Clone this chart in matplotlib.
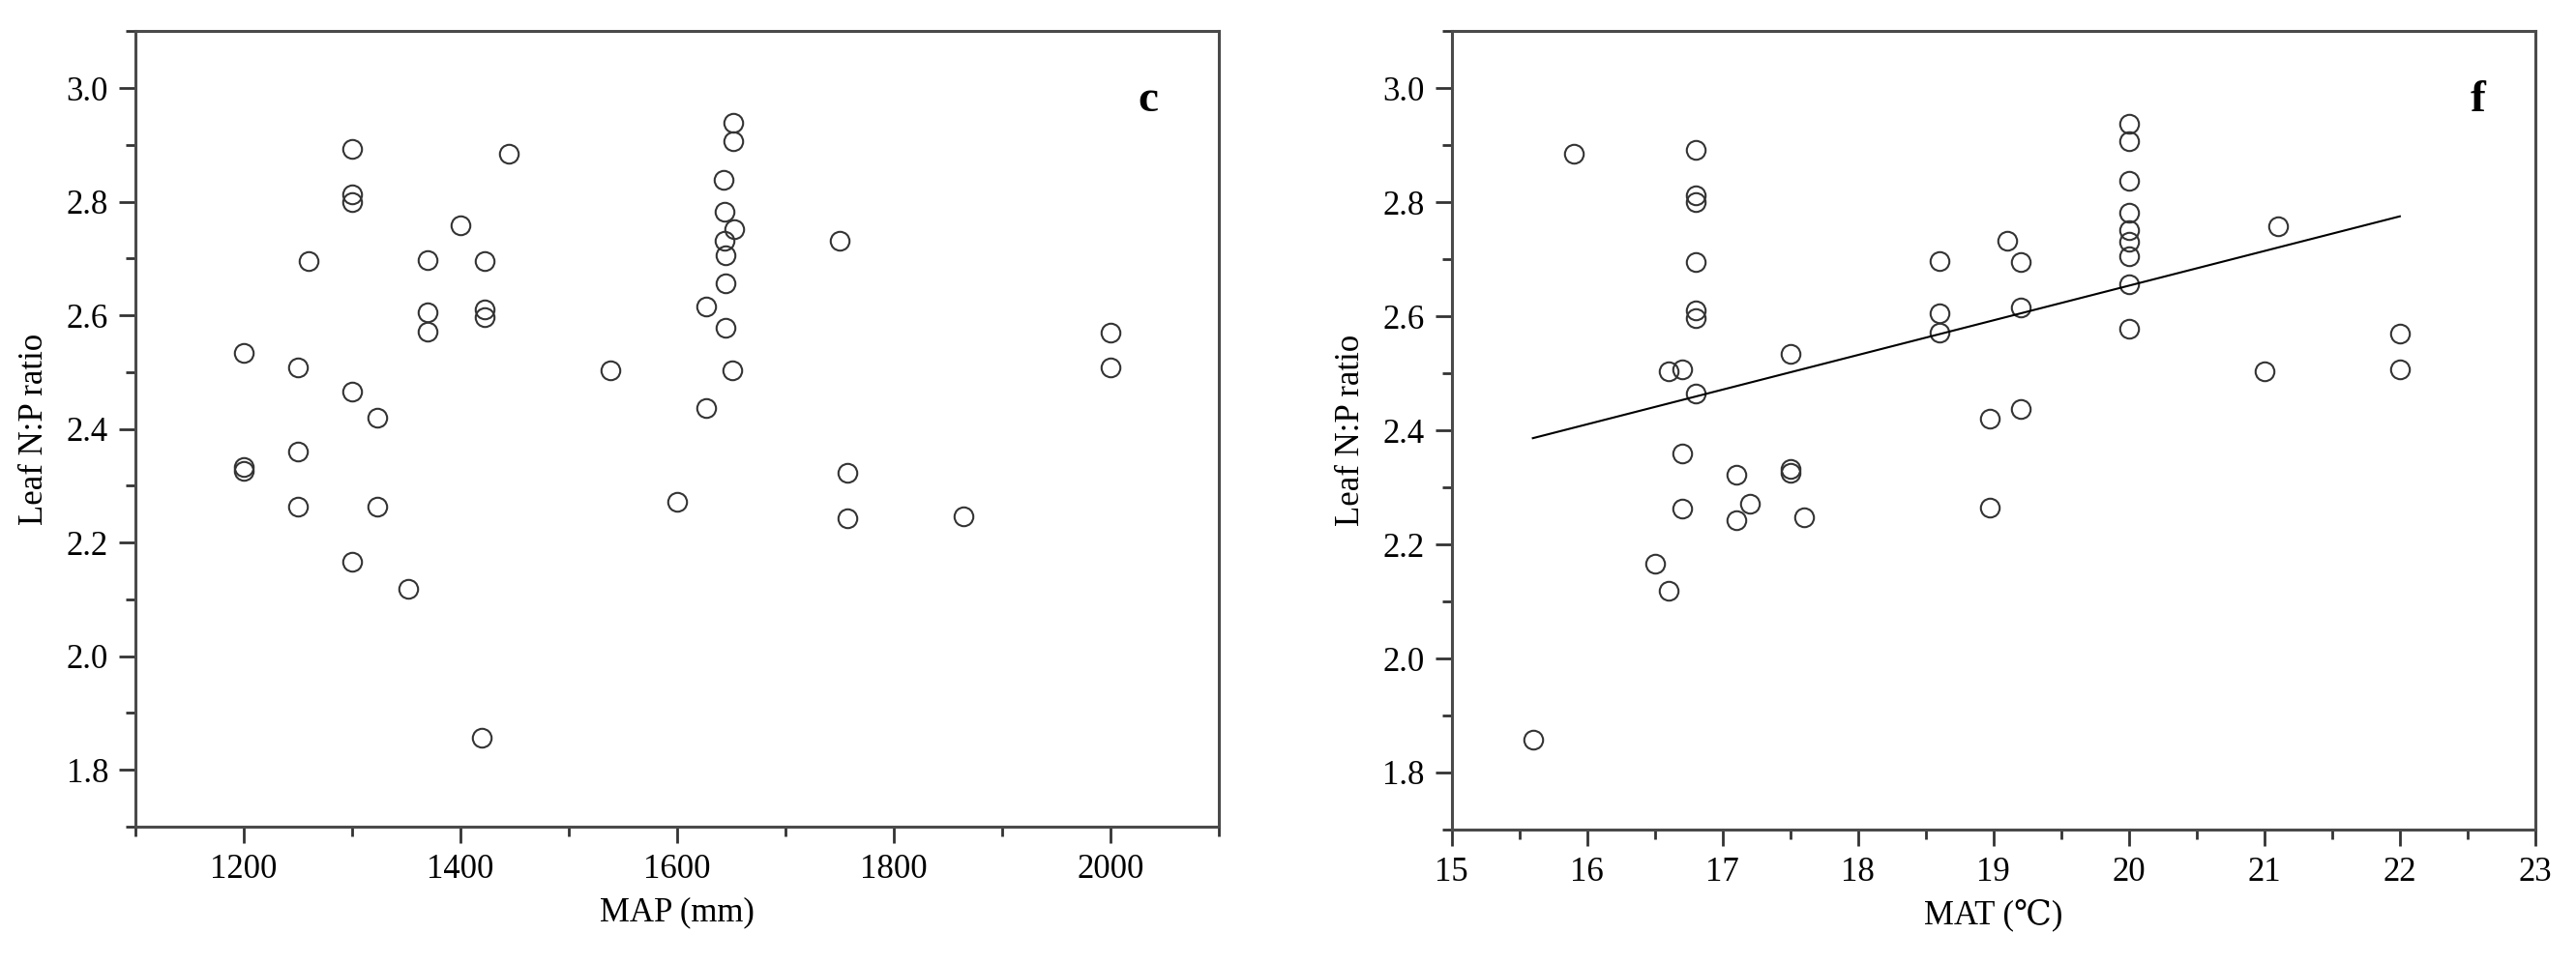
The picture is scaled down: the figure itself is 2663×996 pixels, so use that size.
import numpy as np
import matplotlib
matplotlib.use("Agg")
import matplotlib.pyplot as plt
from matplotlib.ticker import MultipleLocator

plt.rcParams['font.family'] = ['Liberation Serif', 'DejaVu Serif', 'DejaVu Sans']

# site data: mean annual temperature, mean annual precipitation, leaf N:P ratio
mat = [15.6, 15.9, 16.5, 16.6, 16.6, 16.7, 16.7, 16.7, 16.8, 16.8, 16.8, 16.8,
       16.8, 16.8, 16.8, 17.1, 17.1, 17.2, 17.5, 17.5, 17.5, 17.6, 18.6, 18.6,
       18.6, 18.97, 18.97, 19.1, 19.2, 19.2, 19.2, 20.0, 20.0, 20.0, 20.0, 20.0,
       20.0, 20.0, 20.0, 20.0, 21.0, 21.1, 22.0, 22.0]
map_mm = [1420, 1445, 1300, 1538, 1352, 1250, 1250, 1250, 1300, 1300, 1300, 1300,
          1422, 1422, 1422, 1757, 1757, 1600, 1200, 1200, 1200, 1864, 1370, 1370,
          1370, 1323, 1323, 1750, 1260, 1627, 1627, 1652, 1652, 1643, 1644, 1653,
          1644, 1645, 1645, 1645, 1651, 1400, 2000, 2000]
np_ratio = [1.857, 2.885, 2.167, 2.503, 2.118, 2.508, 2.360, 2.263, 2.892, 2.813, 2.800, 2.465,
            2.696, 2.611, 2.597, 2.323, 2.243, 2.272, 2.534, 2.333, 2.326, 2.247, 2.698, 2.605,
            2.572, 2.420, 2.264, 2.732, 2.696, 2.615, 2.437, 2.938, 2.907, 2.838, 2.782, 2.752,
            2.731, 2.705, 2.656, 2.578, 2.504, 2.758, 2.570, 2.508]

# regression line shown in panel f
fit_slope = 0.0608
fit_intercept = 1.438

fig = plt.figure(figsize=(26.63, 9.96), dpi=100)
ax1 = fig.add_axes([0.0525, 0.1416, 0.4207, 0.826])
ax2 = fig.add_axes([0.5635, 0.1386, 0.4207, 0.8288])

mk = dict(linestyle='none', marker='o', markersize=14, markerfacecolor='none',
          markeredgecolor='#333333', markeredgewidth=1.5)

ax1.plot(map_mm, np_ratio, **mk)
ax2.plot(mat, np_ratio, **mk)

xs = np.array([min(mat), max(mat)])
ax2.plot(xs, fit_intercept + fit_slope * xs, color='black', lw=1.5)

ax1.set_xlim(1100, 2100)
ax1.set_xticks([1200, 1400, 1600, 1800, 2000])
ax1.xaxis.set_minor_locator(MultipleLocator(100))
ax2.set_xlim(15, 23)
ax2.xaxis.set_major_locator(MultipleLocator(1))
ax2.xaxis.set_minor_locator(MultipleLocator(0.5))

for ax in (ax1, ax2):
    ax.set_ylim(1.7, 3.1)
    ax.set_yticks([1.8, 2.0, 2.2, 2.4, 2.6, 2.8, 3.0])
    ax.yaxis.set_minor_locator(MultipleLocator(0.1))
    ax.yaxis.set_major_formatter(plt.FormatStrFormatter('%.1f'))
    for s in ax.spines.values():
        s.set_color('#4a4a4a')
        s.set_linewidth(2.2)
    ax.tick_params(which='major', direction='out', length=12, width=2, color='#333333',
                   labelsize=25, pad=8)
    ax.tick_params(which='minor', direction='out', length=7, width=2, color='#333333')
    ax.set_ylabel('Leaf N:P ratio', fontsize=25, labelpad=12)

ax1.set_xlabel('MAP (mm)', fontsize=25, labelpad=8)
ax2.set_xlabel('MAT (\u2103)', fontsize=25, labelpad=8)

ax1.text(0.935, 0.90, 'c', transform=ax1.transAxes, fontsize=34, fontweight='bold',
         ha='center', va='baseline')
ax2.text(0.947, 0.90, 'f', transform=ax2.transAxes, fontsize=34, fontweight='bold',
         ha='center', va='baseline')

fig.savefig('out.png', dpi=100)
